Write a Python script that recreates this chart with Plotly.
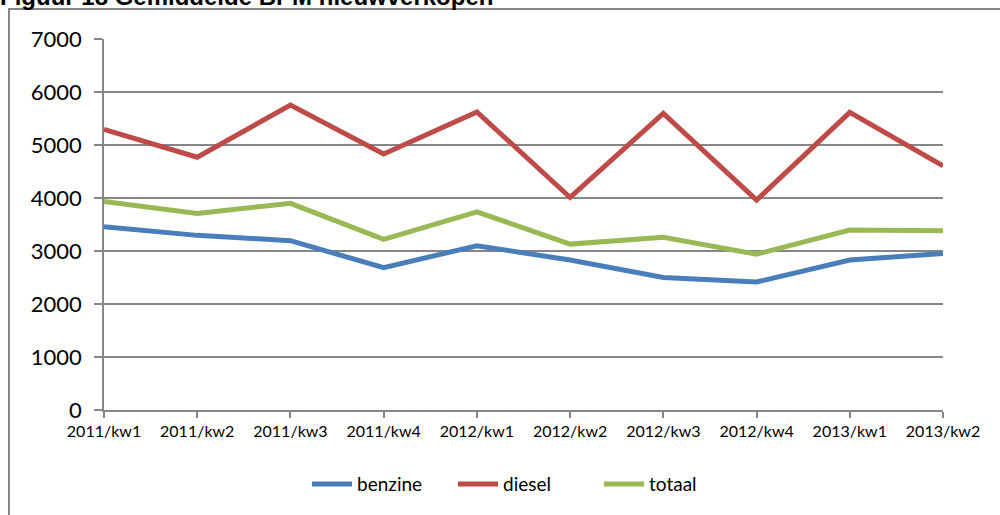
import plotly.graph_objects as go

categories = ["2011/kw1", "2011/kw2", "2011/kw3", "2011/kw4", "2012/kw1",
              "2012/kw2", "2012/kw3", "2012/kw4", "2013/kw1", "2013/kw2"]
benzine = [3460, 3295, 3195, 2685, 3100, 2830, 2500, 2415, 2830, 2955]
diesel = [5295, 4770, 5755, 4830, 5625, 4010, 5595, 3960, 5615, 4605]
totaal = [3935, 3710, 3900, 3220, 3740, 3130, 3260, 2940, 3395, 3380]
series_names = ["benzine", "diesel", "totaal"]
colors = ["#4A7EBB", "#BE4B48", "#98B954"]
title_text = "Figuur 18 Gemiddelde BPM nieuwverkopen"

fig = go.Figure()
for name, vals, col in zip(series_names, [benzine, diesel, totaal], colors):
    fig.add_trace(go.Scatter(x=categories, y=vals, mode="lines", name=name,
                             line=dict(color=col, width=5)))

L, R, T, B = 104, 57, 39, 105
W, H = 1000, 515
pw, ph = W - L - R, H - T - B

fig.update_layout(
    width=W, height=H,
    margin=dict(l=L, r=R, t=T, b=B, pad=0),
    paper_bgcolor="white", plot_bgcolor="white",
    showlegend=True,
    legend=dict(orientation="h", x=0.503, xanchor="center", y=-0.2, yanchor="middle",
                font=dict(family="Lato", size=19, color="black"),
                itemwidth=40, tracegroupgap=0,
                entrywidth=91, entrywidthmode="pixels"),
    font=dict(family="Lato", color="black"),
)
fig.update_xaxes(
    type="category", range=[0, 9], showgrid=False, zeroline=False,
    showline=True, linecolor="#868686", linewidth=1.5,
    ticks="outside", ticklen=6, tickcolor="#868686", tickwidth=1.5,
    tickfont=dict(family="Lato", size=16, color="black"),
)
fig.update_yaxes(
    range=[0, 7000], dtick=1000, showgrid=True, gridcolor="#868686", gridwidth=1.5,
    zeroline=False, showline=True, linecolor="#868686", linewidth=1.5,
    ticks="outside", ticklen=8, tickcolor="#868686", tickwidth=1.5,
    tickfont=dict(family="Lato", size=22, color="black"),
    ticklabelstandoff=8,
)
# outer chart border
fig.add_shape(type="rect", xref="paper", yref="paper",
              x0=(9 - L) / pw, x1=(1010 - L) / pw,
              y0=-(B + 20) / ph, y1=1 + (T - 9) / ph,
              line=dict(color="#868686", width=2), fillcolor="rgba(0,0,0,0)", layer="below")
# title (partly cut off at the top, as in the source)
fig.add_annotation(text="<b>" + title_text + "</b>", xref="paper", yref="paper",
                   x=(-2 - L) / pw, xanchor="left", y=1 + (T + 4) / ph, yanchor="middle",
                   showarrow=False, font=dict(family="Liberation Sans", size=24, color="black"))

fig.write_html("out.html", config={"displayModeBar": False},
               post_script="document.body.style.margin='0px';")
